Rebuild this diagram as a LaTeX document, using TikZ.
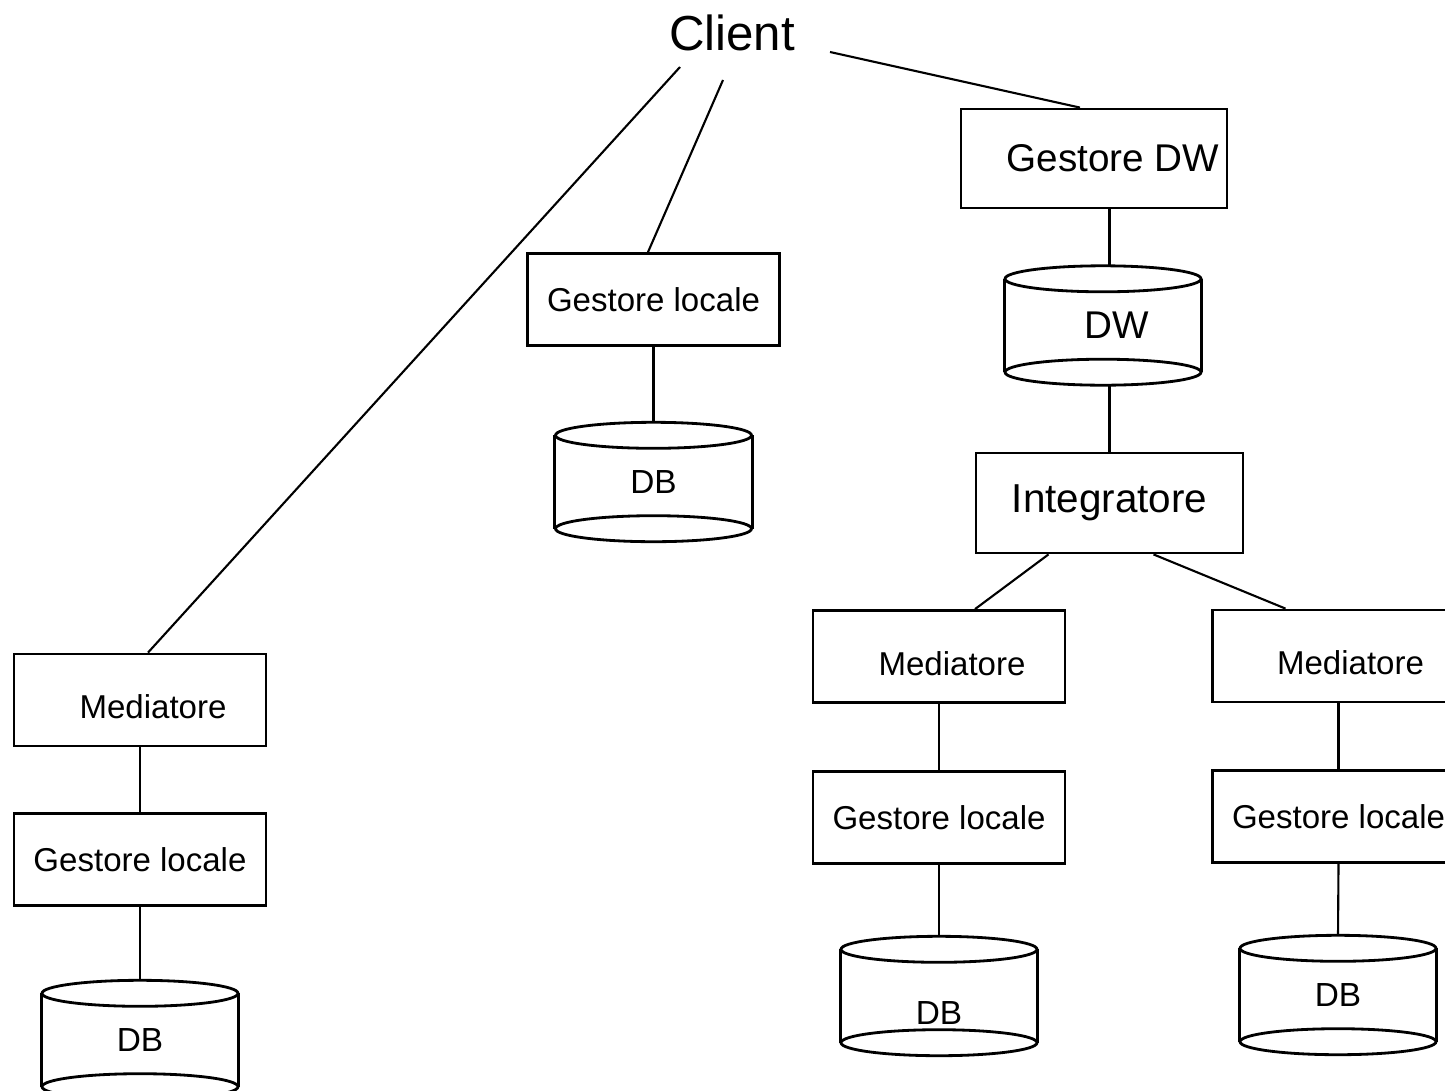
\documentclass[tikz,border=0pt]{standalone}
\usepackage{fontspec}
\setmainfont{Liberation Sans}
\usetikzlibrary{positioning}

% cylinder: name, centre, text
\newcommand{\dbcyl}[3]{%
	\node[dbbody] (#1) at (#2) {#3};
	\draw[outline] (#1.north west) -- (#1.south west) (#1.north east) -- (#1.south east);
	\draw[outline] (#1.north) ellipse [x radius=9.8mm, y radius=1.3mm];
	\draw[outline] (#1.south) ellipse [x radius=9.8mm, y radius=1.3mm];
	\coordinate (#1-top) at ([yshift=1.3mm]#1.north);
	\coordinate (#1-bot) at ([yshift=-1.3mm]#1.south);
}

\begin{document}
\begin{tikzpicture}[x=0.1mm,y=-0.1mm,
	outline/.style={line width=0.8pt},
	link/.style={line width=0.6pt},
	smallfont/.style={font=\fontsize{9.4}{11}\selectfont},
	box/.style={draw,outline,smallfont,minimum width=25.2mm,minimum height=9.2mm,inner sep=0pt},
	bigbox/.style={box,minimum width=26.6mm,minimum height=9.9mm,font=\fontsize{11}{13}\selectfont},
	dbbody/.style={minimum width=19.6mm,minimum height=9.2mm,inner sep=0pt,font=\fontsize{9.5}{11}\selectfont}]
		\useasboundingbox (0,0) rectangle (1445,1090);
		\fill[white] (0,0) rectangle (1445,1090);
		\node[font=\fontsize{14}{16}\selectfont] (client) at (732,33) {Client};
		% left column
		\node[box,label={[smallfont,xshift=1.3mm,yshift=-0.7mm]center:Mediatore}] (medA) at (140,700) {};
		\node[box,below=6.5mm of medA] (glA) {Gestore locale};
		\dbcyl{dbA}{140,1040}{DB}
		% middle
		\node[box] (glB) at (653.5,299.5) {Gestore locale};
		\dbcyl{dbB}{653.5,482}{DB}
		% data warehouse
		\node[bigbox,label={[font=\fontsize{11}{13}\selectfont,xshift=1.9mm]center:Gestore DW}] (gdw) at (1094,158.5) {};
		\dbcyl{dw}{1103,325.5}{\fontsize{11}{13}\selectfont\hspace*{2.8mm}DW}
		\node[bigbox,minimum width=26.7mm,minimum height=10mm,font=\fontsize{11.5}{13}\selectfont] (integr) at (1109.5,503) {Integratore};
		\node[box,label={[smallfont,xshift=1.3mm,yshift=-0.7mm]center:Mediatore}] (medB) at (939,656.5) {};
		\node[box,below=6.6mm of medB] (glC) {Gestore locale};
		\dbcyl{dbC}{939,996}{\raisebox{-1.7mm}[\height][0pt]{DB}}
		\node[box,label={[smallfont,xshift=1.2mm,yshift=-0.7mm]center:Mediatore}] (medC) at (1338.5,656) {};
		\node[box,below=6.6mm of medC] (glD) {Gestore locale};
		\dbcyl{dbD}{1338,995}{DB}
		% collegamenti
		\draw[link] ([shift={(-52,34)}]client.center) -- ([xshift=0.8mm]medA.north);
		\draw[link] ([shift={(-9,47)}]client.center) -- ([xshift=-0.55mm]glB.north);
		\draw[link] ([shift={(98,19)}]client.center) -- ([xshift=-1.4mm]gdw.north);
		\draw[link] (medA) -- (glA);
		\draw[link] (glA.south) -- (dbA-top);
		\draw[link] (glB.south) -- (dbB-top);
		\draw[link] (gdw.south -| integr.north) -- (dw-top -| integr.north);
		\draw[link] (dw-bot -| integr.north) -- (integr.north);
		\draw[link] ([xshift=-6.1mm]integr.south) -- ([xshift=3.6mm]medB.north);
		\draw[link] ([xshift=4.4mm]integr.south) -- ([xshift=-5.3mm]medC.north);
		\draw[link] (medB) -- (glC);
		\draw[link] (glC.south) -- (dbC-top);
		\draw[link] (medC) -- (glD);
		\draw[link] (glD.south) -- (dbD-top);
	\end{tikzpicture}
\end{document}
